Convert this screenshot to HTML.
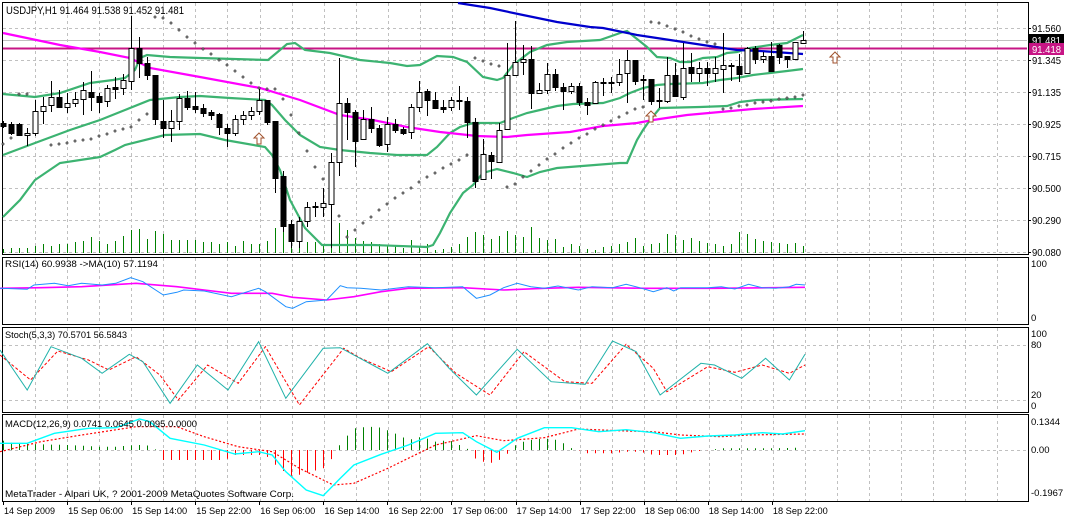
<!DOCTYPE html>
<html><head><meta charset="utf-8">
<style>
html,body{margin:0;padding:0;background:#fff;}
svg{display:block;font-family:"Liberation Sans",sans-serif;}
</style></head>
<body>
<svg id="s" width="1065" height="517" xmlns="http://www.w3.org/2000/svg">
<rect width="1065" height="517" fill="#fff"/>
<g id="grid"></g>
<g id="main"></g>
<g id="sub"></g>
<g id="txt" font-size="10" fill="#000">
<text x="6" y="14" font-size="11" textLength="178" lengthAdjust="spacingAndGlyphs">USDJPY,H1  91.464 91.538 91.452 91.481</text>
<text x="5" y="267" font-size="9.5" textLength="153" lengthAdjust="spacingAndGlyphs">RSI(14) 60.9938  -&gt;MA(10) 57.1194</text>
<text x="5" y="338" font-size="9.5" textLength="122" lengthAdjust="spacingAndGlyphs">Stoch(5,3,3) 70.5701 56.5843</text>
<text x="5" y="427" font-size="9.5" textLength="192" lengthAdjust="spacingAndGlyphs">MACD(12,26,9) 0.0741 0.0645 0.0095 0.0000</text>
<text x="5" y="497" font-size="9.5" textLength="289" lengthAdjust="spacingAndGlyphs">MetaTrader - Alpari UK, ? 2001-2009 MetaQuotes Software Corp.</text>
</g>
</svg>
<script>
var NS="http://www.w3.org/2000/svg";
function el(p,t,a,txt){var e=document.createElementNS(NS,t);for(var k in a)e.setAttribute(k,a[k]);if(txt!==undefined)e.textContent=txt;document.getElementById(p).appendChild(e);return e;}
function pl(p,pts,a){a.points=pts.map(function(q){return q[0]+","+q[1]}).join(" ");a.fill="none";return el(p,"polyline",a);}
[[2,2,1026,252],[2,257,1026,67],[2,327,1026,85],[2,414,1026,87]].forEach(function(r){el("grid","rect",{x:r[0]+.5,y:r[1]+.5,width:r[2],height:r[3],fill:"none",stroke:"#000","stroke-width":1});});
for(var k=1;k<=31;k++){var x=3+32.07*k;x=Math.round(x)+.5;
 [[3,254],[258,324],[328,412],[415,501]].forEach(function(s){el("grid","line",{x1:x,y1:s[0],x2:x,y2:s[1],stroke:"#c0c0c0","stroke-dasharray":"3,3"});});}
var py=[28,60,92,124,156,188,220,252],pl_=["91.560","91.345","91.135","90.925","90.715","90.500","90.290","90.080"];
py.forEach(function(y,i){el("grid","line",{x1:3,y1:y+.5,x2:1027,y2:y+.5,stroke:"#c0c0c0","stroke-dasharray":"3,3"});
 el("grid","line",{x1:1028,y1:y+.5,x2:1031,y2:y+.5,stroke:"#000"});
 el("txt","text",{x:1032,y:y+4,"font-size":"10.5",textLength:29,lengthAdjust:"spacingAndGlyphs"},pl_[i]);});
[[345,"80"],[400,"20"]].forEach(function(a){el("grid","line",{x1:3,y1:a[0]+.5,x2:1027,y2:a[0]+.5,stroke:"#c0c0c0","stroke-dasharray":"3,3"});});
el("grid","line",{x1:3,y1:450.5,x2:1027,y2:450.5,stroke:"#c0c0c0","stroke-dasharray":"3,3"});
[[267,"100"],[321,"0"],[337,"100"],[348,"80"],[398,"20"],[409,"0"],[425,"0.1344"],[453,"0.00"],[496,"-0.1967"]].forEach(function(a){el("txt","text",{x:1031,y:a[0],"font-size":"9.5"},a[1]);});
var tl=["14 Sep 2009","15 Sep 06:00","15 Sep 14:00","15 Sep 22:00","16 Sep 06:00","16 Sep 14:00","16 Sep 22:00","17 Sep 06:00","17 Sep 14:00","17 Sep 22:00","18 Sep 06:00","18 Sep 14:00","18 Sep 22:00"];
tl.forEach(function(t,i){var x=3+64.07*i;el("txt","text",{x:x+1,y:514,"font-size":"9.5",textLength:(i==0?51:55),lengthAdjust:"spacingAndGlyphs"},t);el("grid","line",{x1:Math.round(x)+.5,y1:501,x2:Math.round(x)+.5,y2:505,stroke:"#000"});});
var vol=[249,248,248,248,246,244,246,244,244,242,241,237,241,244,241,236,230,229,239,231,234,240,240,240,240,242,242,244,242,246,241,244,244,241,228,228,236,236,242,242,244,228,223,230,238,241,242,244,245,246,248,240,246,244,250,249,247,244,237,232,235,239,236,231,235,237,227,238,240,239,247,244,246,249,250,247,246,244,242,238,246,244,243,234,235,240,238,241,243,244,246,244,232,234,239,241,242,243,244,243,246];
vol.forEach(function(v,i){var x=Math.round(3.3+8*i)+.5;el("main","line",{x1:x,y1:v,x2:x,y2:253,stroke:"#008000","stroke-width":1});});
el("main","line",{x1:3,y1:40.5,x2:1027,y2:40.5,stroke:"#c0c0c0"});
el("main","line",{x1:3,y1:48.5,x2:1027,y2:48.5,stroke:"#c71585","stroke-width":2});
var G={stroke:"#3cb371","stroke-width":2.2};
pl("main",[[3,94],[35,97],[60,93],[90,83],[113,80],[125,78],[135,70],[140,58],[147,55],[170,57],[200,58],[268,60],[280,50],[287,44],[295,43],[305,50],[330,53],[360,60],[390,63],[407,66],[420,65],[437,56],[453,57],[467,62],[483,77],[497,80],[503,78],[513,65],[530,52],[547,45],[567,42],[600,40],[623,32],[627,31],[647,47],[657,57],[670,58],[680,62],[690,62],[703,58],[717,57],[727,53],[737,52],[750,48],[770,45],[787,43],[803,35]],G);
pl("main",[[3,155],[35,143],[70,130],[100,120],[125,110],[150,100],[180,97],[200,96],[230,98],[265,100],[272,105],[285,120],[300,135],[320,147],[340,150],[370,153],[397,155],[427,155],[437,147],[450,133],[460,127],[473,123],[500,123],[513,118],[527,113],[540,110],[557,106],[573,104],[603,103],[620,98],[630,93],[643,88],[657,85],[670,84],[703,83],[720,80],[737,78],[753,75],[770,73],[787,71],[803,69]],G);
pl("main",[[3,217],[20,200],[35,180],[60,163],[100,157],[115,150],[125,145],[165,135],[200,134],[225,140],[265,147],[272,155],[280,170],[290,200],[305,228],[322,245],[373,245],[427,247],[433,245],[440,233],[450,213],[463,193],[473,185],[483,173],[497,169],[513,173],[527,177],[540,172],[557,168],[620,163],[627,163],[637,140],[643,130],[650,120],[660,108],[700,107],[727,106],[740,102],[757,100],[803,99]],G);
pl("main",[[3,33],[60,45],[100,52],[130,58],[150,68],[200,77],[260,88],[300,100],[340,115],[373,120],[407,127],[440,132],[477,136],[507,137],[527,135],[570,132],[603,126],[637,123],[653,120],[687,115],[720,112],[753,109],[803,106]],{stroke:"#ff00ff","stroke-width":2.2});
pl("main",[[458,3],[490,8],[523,15],[557,22],[590,27],[603,28],[637,35],[670,40],[703,45],[723,48],[737,50],[760,51],[803,54]],{stroke:"#0000cd","stroke-width":2.2});
var sar=[[3,144],[11,138],[19,94],[27,94],[51,145],[59,144],[67,143],[75,141],[83,140],[91,139],[99,136],[107,134],[115,131],[123,129],[131,127],[139,120],[147,114],[155,17],[163,18],[171,23],[179,30],[187,37],[195,43],[203,49],[211,54],[219,60],[227,65],[235,71],[243,77],[251,83],[259,88],[267,89],[275,89],[283,99],[291,115],[299,133],[307,151],[315,167],[323,179],[331,198],[339,216],[347,237],[355,230],[363,223],[371,217],[379,210],[387,204],[395,198],[403,193],[411,188],[419,182],[427,177],[435,173],[443,168],[451,164],[459,160],[467,155],[475,58],[483,61],[491,64],[499,66],[507,187],[515,184],[523,177],[531,171],[539,165],[547,159],[555,154],[563,148],[571,143],[579,138],[587,134],[595,129],[603,125],[611,121],[619,117],[627,113],[635,109],[643,107],[651,22],[659,23],[667,26],[675,29],[683,32],[691,36],[699,39],[707,42],[715,44],[723,109],[731,108],[739,106],[747,105],[755,103],[763,102],[771,101],[779,99],[787,98],[795,97],[803,95]];
sar.forEach(function(p){el("main","rect",{x:p[0]-0.9,y:p[1]-0.9,width:1.8,height:1.8,fill:"#fff",stroke:"#000","stroke-width":0.6,transform:"rotate(45 "+p[0]+" "+p[1]+")"});});
var C=[[123,126,121,128,1],[124,133,122,135,1],[124,135,123,136,1],[133,135,128,146,0],[111,133,100,136,0],[106,111,97,124,0],[97,105,81,112,0],[97,107,90,107,1],[103,107,93,113,0],[99,103,92,107,0],[90,99,82,115,0],[92,97,71,111,1],[96,102,93,113,1],[88,101,85,107,0],[87,89,77,99,1],[80,88,74,95,0],[48,81,16,90,0],[48,63,37,78,1],[63,75,57,80,1],[75,119,75,125,1],[121,128,100,138,1],[121,128,110,142,0],[98,121,94,130,0],[98,107,91,110,1],[106,109,92,113,1],[108,113,104,117,1],[112,115,110,120,1],[114,127,113,135,1],[128,133,124,147,1],[119,133,115,136,0],[115,119,111,125,0],[111,115,107,120,0],[100,111,89,115,0],[100,122,100,125,1],[121,178,121,193,1],[176,226,171,232,1],[224,241,220,248,1],[221,241,217,248,0],[207,221,202,227,0],[206,207,202,217,1],[203,207,188,217,0],[162,204,153,248,0],[103,162,58,176,0],[103,112,98,140,1],[112,141,110,167,1],[119,139,110,140,0],[119,128,107,133,1],[128,145,125,147,1],[124,144,117,152,0],[124,130,119,133,1],[129,133,127,135,1],[107,132,104,139,0],[92,107,81,112,0],[91,100,89,116,1],[100,108,92,108,1],[107,109,100,113,1],[100,107,97,111,0],[100,101,86,110,1],[101,122,97,138,1],[122,181,118,188,1],[154,179,139,180,0],[155,161,152,179,1],[130,162,123,163,0],[75,129,43,130,0],[62,75,21,75,0],[59,62,45,75,0],[59,93,46,109,1],[90,93,83,94,0],[74,90,63,94,0],[74,87,69,91,1],[87,91,83,110,1],[86,91,83,94,0],[86,102,83,106,1],[102,105,98,115,1],[82,103,81,103,0],[82,83,78,96,1],[82,83,77,93,1],[74,82,59,86,0],[60,73,50,103,0],[60,81,60,85,1],[79,80,75,100,1],[79,101,79,105,1],[100,101,88,108,1],[75,101,57,103,0],[75,96,63,96,1],[68,97,43,100,0],[67,73,53,82,1],[68,73,62,82,0],[68,73,62,86,1],[68,73,57,82,0],[65,69,33,93,0],[65,66,63,81,1],[66,74,54,82,1],[48,73,47,74,0],[48,59,46,64,1],[56,59,52,63,0],[56,71,42,71,1],[45,57,44,64,1],[56,59,56,68,1],[42,59,42,59,0],[40,43,31,44,0]];
C.forEach(function(c,i){var x=Math.round(3.3+8*i)+.5;
 el("main","line",{x1:x,y1:c[2],x2:x,y2:c[3],stroke:"#000"});
 var h=Math.max(c[1]-c[0],1);
 el("main","rect",{x:x-2.5,y:c[0]+.5,width:5,height:h,fill:c[4]?"#000":"#fff",stroke:"#000","stroke-width":1});});
[[259,139],[651,117],[835,58]].forEach(function(a){var x=a[0],y=a[1];
 el("main","path",{d:"M"+x+" "+(y-6)+" L"+(x+5)+" "+(y-1)+" L"+(x+2)+" "+(y-1)+" L"+(x+2)+" "+(y+5)+" L"+(x-2)+" "+(y+5)+" L"+(x-2)+" "+(y-1)+" L"+(x-5)+" "+(y-1)+" Z",fill:"#fff",stroke:"#a0522d","stroke-width":1});});
el("main","rect",{x:1029,y:34,width:35,height:12,fill:"#000"});
el("main","text",{x:1032,y:44,"font-size":"10.5",fill:"#fff",textLength:29,lengthAdjust:"spacingAndGlyphs"},"91.481");
el("main","rect",{x:1029,y:43,width:35,height:12,fill:"#c71585"});
el("main","text",{x:1032,y:53,"font-size":"10.5",fill:"#fff",textLength:29,lengthAdjust:"spacingAndGlyphs"},"91.418");
function Z(pts){return pts.map(function(p){return [(p[0]/1.4695).toFixed(1),(p[1]/3+255).toFixed(1)];});}
pl("sub",Z([[0,100],[60,98],[120,95],[200,85],[260,95],[300,105],[340,115],[400,115],[430,127],[480,135],[520,125],[560,110],[600,100],[680,98],[740,105],[800,100],[850,97],[950,100],[1050,100],[1183,97]]),{stroke:"#ff00ff","stroke-width":1.6});
pl("sub",Z([[0,100],[40,103],[50,90],[80,85],[100,92],[120,85],[150,90],[170,85],[192,68],[210,80],[240,120],[260,112],[270,105],[300,108],[340,125],[380,100],[390,110],[420,155],[430,160],[450,140],[480,135],[500,92],[510,98],[530,100],[560,105],[600,95],[640,98],[680,95],[700,130],[720,120],[740,98],[760,85],[780,95],[800,100],[820,93],[850,105],[870,95],[900,98],[920,88],[940,98],[960,110],[980,98],[990,108],[1000,98],[1040,98],[1060,95],[1080,102],[1100,88],[1120,98],[1140,100],[1160,95],[1170,88],[1183,90]]),{stroke:"#1e90ff","stroke-width":1});
pl("sub",Z([[0,300],[45,375],[85,288],[130,315],[160,345],[200,305],[235,360],[262,435],[305,330],[350,385],[390,275],[440,450],[505,280],[530,310],[575,350],[630,275],[670,355],[720,420],[770,290],[830,380],[870,385],[920,268],[960,340],[980,410],[1040,335],[1080,352],[1120,330],[1160,355],[1183,330]]),{stroke:"#ff0000","stroke-width":1,"stroke-dasharray":"3,2"});
pl("sub",Z([[0,285],[40,405],[75,275],[120,310],[150,355],[190,298],[210,320],[250,445],[290,330],[335,405],[380,260],[420,430],[475,280],[500,278],[570,355],[628,266],[660,340],[700,420],[760,283],[810,380],[860,388],[900,258],[935,290],[970,420],[1030,325],[1050,330],[1090,370],[1125,310],[1160,375],[1183,298]]),{stroke:"#20b2aa","stroke-width":1});
var H=[[0,555],[20,565],[60,568],[100,570],[145,575],[170,575],[200,570],[215,570],[230,585],[240,615],[330,615],[345,600],[390,600],[410,640],[430,665],[475,640],[490,605],[500,565],[520,520],[540,515],[560,518],[580,535],[600,555],[620,545],[640,560],[660,555],[680,575],[690,585],[700,615],[720,625],[740,610],[750,585],[760,565],[780,555],[800,550],[820,555],[840,580],[850,585],[860,595],[900,595],[920,590],[940,590],[960,600],[1000,600],[1020,590],[1060,580],[1130,580],[1180,578]];
function hv(xz){for(var j=0;j<H.length-1;j++){if(xz>=H[j][0]&&xz<=H[j+1][0]){var t=(xz-H[j][0])/(H[j+1][0]-H[j][0]);return H[j][1]+t*(H[j+1][1]-H[j][1]);}}return 585;}
for(var i=0;i<=100;i++){var xr=3.3+8*i,xz=xr*1.4695,y=hv(xz)/3+255;var x=Math.round(xr)+.5;
 el("sub","line",{x1:x,y1:450,x2:x,y2:y.toFixed(1),stroke:y<450?"#008000":"#ff0000","stroke-width":1});}
pl("sub",Z([[0,590],[60,560],[120,540],[200,515],[260,515],[300,545],[350,575],[400,590],[440,640],[490,690],[520,685],[570,640],[600,610],[640,570],[700,542],[740,557],[800,548],[850,522],[920,528],[960,530],[1000,540],[1060,545],[1100,540],[1183,537]]),{stroke:"#ff0000","stroke-width":1.2,"stroke-dasharray":"2,2"});
pl("sub",Z([[0,565],[40,565],[80,535],[130,520],[170,518],[205,492],[220,500],[250,550],[300,570],[345,597],[380,590],[400,600],[420,650],[450,705],[475,722],[500,670],[520,630],[560,598],[600,570],[640,535],[680,533],[700,560],[730,592],[760,550],[800,518],[840,518],[880,530],[920,524],[960,533],[1000,550],[1040,543],[1080,540],[1120,533],[1150,537],[1183,527]]),{stroke:"#00ffff","stroke-width":1.4});
</script>
</body></html>
